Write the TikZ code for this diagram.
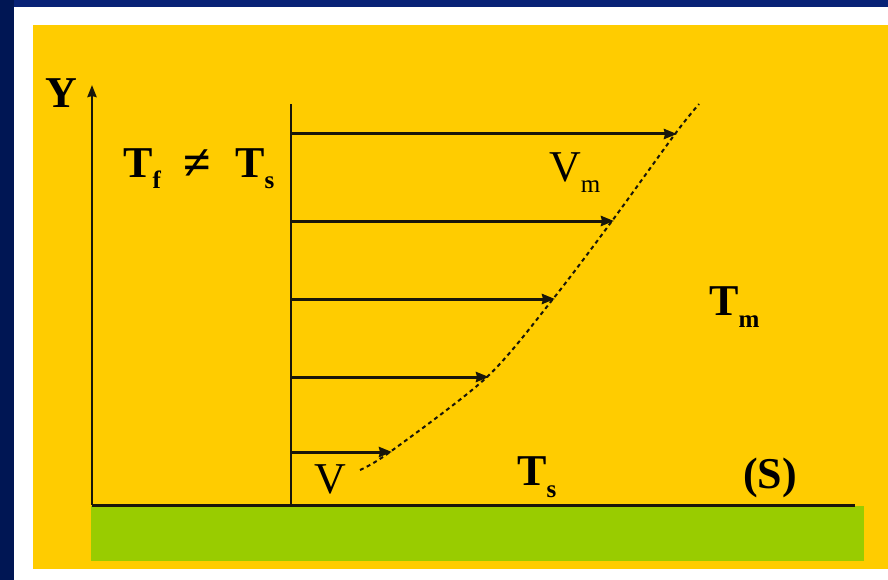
\documentclass[tikz,border=0pt]{standalone}
\usepackage{fontspec}
\setmainfont{Liberation Serif}
\usetikzlibrary{arrows.meta}
\definecolor{bgblue}{RGB}{8,34,118}
\definecolor{bgdark}{RGB}{0,22,84}
\definecolor{slideyellow}{RGB}{255,204,0}
\definecolor{slidegreen}{RGB}{153,204,0}
\definecolor{linedark}{RGB}{25,22,10}
\newcommand\mybig{\fontsize{44}{44}\selectfont}
\newcommand\mysub{\fontsize{25}{25}\selectfont}
\tikzset{
  lab/.style={inner sep=0pt, anchor=base west},
  vel/.style={line width=3pt, draw=linedark, -{Stealth[length=13pt,width=10pt,inset=1pt]}},
  wallline/.style={line width=2.6pt, draw=linedark},
  profile/.style={line width=2pt, draw=linedark, dash pattern=on 4pt off 3.5pt}
}
\begin{document}
\begin{tikzpicture}[x=1pt,y=-1pt]
\useasboundingbox (0,0) rectangle (888,580);
% background frame
\fill[bgblue] (0,0) rectangle (888,580);
\fill[bgdark] (0,0) rectangle (14,580);
\fill[white] (14,7) rectangle (888,580);
\fill[slideyellow] (33,25) rectangle (888,569);
\fill[slidegreen] (91,506) rectangle (864,561);
% coordinates
\coordinate (o) at (92,505);
\coordinate (ytip) at (92,85);
\coordinate (gend) at (855,505);
\coordinate (wtop) at (291,104);
\coordinate (wbot) at (291,505);
\coordinate (w1) at (291,134); \coordinate (t1) at (677,134);
\coordinate (w2) at (291,221); \coordinate (t2) at (614,221);
\coordinate (w3) at (291,299); \coordinate (t3) at (555,299);
\coordinate (w4) at (291,377); \coordinate (t4) at (489,377);
\coordinate (w5) at (291,452); \coordinate (t5) at (392,452);
% axes
\draw[line width=3pt, draw=linedark] (o) -- (gend);
\draw[wallline, -{Stealth[length=12pt,width=9pt,inset=1pt]}] (o) -- (ytip);
\draw[wallline] (wbot) -- (wtop);
% velocity arrows
\draw[vel] (w1) -- (t1);
\draw[vel] (w2) -- (t2);
\draw[vel] (w3) -- (t3);
\draw[vel] (w4) -- (t4);
\draw[vel] (w5) -- (t5);
% profile
\draw[profile] plot[smooth, tension=0.5] coordinates {(360,470) (390,452) (487,377) (553,299) (612,221) (675,134) (699,104)};
% labels
\node[lab] (Y) at (45,108) {\mybig\bfseries Y};
\node[lab] (Tf) at (123,178) {\mybig\bfseries T\raisebox{-11pt}{\mysub f}};
\node[inner sep=0pt] (neq) at (197,165) {\fontsize{50}{50}\selectfont\bfseries ≠};
\node[lab] (Ts1) at (235,178) {\mybig\bfseries T\raisebox{-11pt}{\mysub s}};
\node[lab] (Vm) at (549,182) {\mybig V\raisebox{-11pt}{\mysub m}};
\node[lab] (Tm) at (709,315) {\mybig\bfseries T\raisebox{-12pt}{\mysub m}};
\node[lab] (V) at (314,493) {\mybig V};
\node[lab] (Ts2) at (517,485) {\mybig\bfseries T\raisebox{-12pt}{\mysub s}};
\node[lab] (S) at (743,488) {\mybig\bfseries (S)};
\end{tikzpicture}
\end{document}
